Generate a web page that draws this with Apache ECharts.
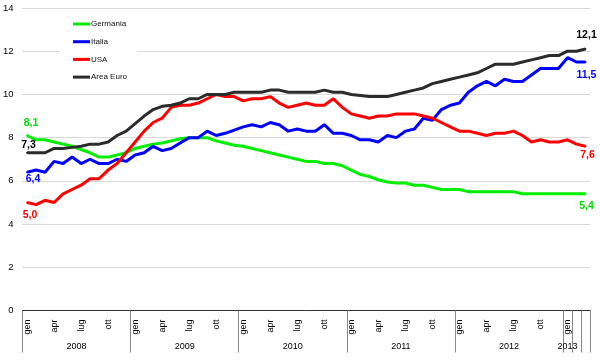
<!DOCTYPE html>
<html>
<head>
<meta charset="utf-8">
<script src="https://cdn.jsdelivr.net/npm/echarts@6/dist/echarts.min.js"></script>
<style>html,body{margin:0;padding:0;background:#fff}#c{width:600px;height:361px}</style>
</head>
<body>
<div id="c"></div>
<script>
const monthNames = ['gen','feb','mar','apr','mag','giu','lug','ago','set','ott','nov','dic'];
const years = ['2008','2009','2010','2011','2012','2013'];
const monthsPerYear = [12,12,12,12,12,3];
const yTicks = [0,2,4,6,8,10,12,14];

const germania = [8.1,7.9,7.9,7.8,7.7,7.6,7.45,7.3,7.1,7.1,7.2,7.3,
  7.5,7.6,7.7,7.75,7.85,7.95,8.0,8.0,8.0,7.85,7.75,7.65,
  7.6,7.5,7.4,7.3,7.2,7.1,7.0,6.9,6.9,6.8,6.8,6.7,
  6.5,6.3,6.2,6.05,5.95,5.9,5.9,5.8,5.8,5.7,5.6,5.6,
  5.6,5.5,5.5,5.5,5.5,5.5,5.5,5.4,5.4,5.4,5.4,5.4,
  5.4,5.4,5.4];
const italia = [6.4,6.5,6.4,6.9,6.8,7.1,6.8,7.0,6.8,6.8,7.0,6.9,
  7.2,7.3,7.6,7.4,7.5,7.75,8.0,8.0,8.3,8.1,8.2,8.35,
  8.5,8.6,8.5,8.7,8.6,8.3,8.4,8.3,8.3,8.6,8.2,8.2,
  8.1,7.9,7.9,7.8,8.1,8.0,8.3,8.4,8.9,8.8,9.3,9.5,
  9.6,10.1,10.4,10.6,10.4,10.7,10.6,10.6,10.9,11.2,11.2,11.2,
  11.7,11.5,11.5];
const usa = [5.0,4.9,5.1,5.0,5.4,5.6,5.8,6.1,6.1,6.5,6.8,7.3,
  7.8,8.3,8.7,8.9,9.4,9.5,9.5,9.6,9.8,10.0,9.9,9.9,
  9.7,9.8,9.8,9.9,9.6,9.4,9.5,9.6,9.5,9.5,9.8,9.4,
  9.1,9.0,8.9,9.0,9.0,9.1,9.1,9.1,9.0,8.9,8.7,8.5,
  8.3,8.3,8.2,8.1,8.2,8.2,8.3,8.1,7.8,7.9,7.8,7.8,
  7.9,7.7,7.6];
const areaEuro = [7.3,7.3,7.3,7.5,7.5,7.55,7.6,7.7,7.7,7.8,8.1,8.3,
  8.65,9.0,9.3,9.45,9.5,9.6,9.8,9.8,10.0,10.0,10.0,10.1,
  10.1,10.1,10.1,10.2,10.2,10.1,10.1,10.1,10.1,10.2,10.1,10.1,
  10.0,9.95,9.9,9.9,9.9,10.0,10.1,10.2,10.3,10.5,10.6,10.7,
  10.8,10.9,11.0,11.2,11.4,11.4,11.4,11.5,11.6,11.7,11.8,11.8,
  12.0,12.0,12.1];

// build categories "mese anno"
const categories = [];
const yearCenters = {};
let idx = 0;
years.forEach((y, k) => {
  const n = monthsPerYear[k];
  yearCenters[k === years.length - 1 ? idx + 0.5 : idx + n / 2] = y;
  for (let m = 0; m < n; m++) { categories.push(monthNames[m] + ' ' + y); idx++; }
});
const N = categories.length;
const yearStarts = [];
{ let s = 0; monthsPerYear.forEach(n => { yearStarts.push(s); s += n; }); }

const fmt = v => String(v.toFixed(1)).replace('.', ',');

function makeData(vals, firstLbl, lastLbl, color) {
  return vals.map((v, i) => {
    if (i === 0 || i === vals.length - 1) {
      const l = i === 0 ? firstLbl : lastLbl;
      return {
        value: v, symbol: 'circle', symbolSize: 2,
        label: { show: true, position: l.pos, offset: l.off, formatter: p => fmt(p.value),
                 color: color, fontWeight: 'bold', fontSize: 10.5, fontFamily: 'Liberation Sans, Arial, sans-serif' }
      };
    }
    return v;
  });
}

const seriesDefs = [
  { name: 'Germania', vals: germania, color: '#00ee00', lblColor: '#00e000',
    first: { pos: 'top', off: [4, -1] }, last: { pos: 'bottom', off: [1, 1] } },
  { name: 'Italia', vals: italia, color: '#0000ff', lblColor: '#0000ff',
    first: { pos: 'bottom', off: [6, -5] }, last: { pos: 'bottom', off: [1, 2] } },
  { name: 'USA', vals: usa, color: '#ff0000', lblColor: '#ff0000',
    first: { pos: 'bottom', off: [3, 1] }, last: { pos: 'bottom', off: [2, -3] } },
  { name: 'Area Euro', vals: areaEuro, color: '#2b2b2b', lblColor: '#000000',
    first: { pos: 'top', off: [1.5, 4] }, last: { pos: 'top', off: [1, -2] } }
];

const chart = echarts.init(document.getElementById('c'), null, { renderer: 'canvas' });
chart.setOption({
  animation: false,
  backgroundColor: '#fff',
  textStyle: { fontFamily: 'Liberation Sans, Arial, sans-serif' },
  grid: { left: 21, right: 10, top: 8, bottom: 50.5, containLabel: false },
  legend: {
    orient: 'vertical', left: 60, top: 14,
    padding: [5, 10, 5, 13],
    backgroundColor: '#ffffff',
    icon: 'rect',
    itemWidth: 17, itemHeight: 3, itemGap: 7.7,
    textStyle: { fontSize: 8, color: '#111', lineHeight: 10, fontFamily: 'Liberation Sans, Arial, sans-serif',
                 padding: [0, 0, 0, -4] },
    data: seriesDefs.map(s => ({ name: s.name, icon: 'rect' }))
  },
  xAxis: [
    {
      type: 'category', boundaryGap: true, data: categories,
      axisLine: { show: true, lineStyle: { color: '#333', width: 1 } },
      axisTick: { show: true, length: 42, interval: (i) => yearStarts.includes(i) || i >= 60,
                  lineStyle: { color: '#8a8a8a', width: 1 } },
      axisLabel: { interval: (i) => i % 3 === 0 && i <= 60, rotate: 90, margin: 9,
                   fontSize: 9, color: '#000', formatter: v => v.split(' ')[0] },
      splitLine: { show: false }
    },
    {
      type: 'value', position: 'bottom', min: 0, max: N, interval: 0.5,
      axisLine: { show: false }, axisTick: { show: false }, splitLine: { show: false },
      axisLabel: { margin: 32, fontSize: 9, color: '#000', showMinLabel: true, showMaxLabel: true,
                   formatter: v => yearCenters[v] || '' }
    }
  ],
  yAxis: {
    type: 'value', min: yTicks[0], max: yTicks[yTicks.length - 1], interval: 2,
    axisLine: { show: false }, axisTick: { show: false },
    axisLabel: { fontSize: 9.5, color: '#000', margin: 9 },
    splitLine: { lineStyle: { color: '#b4b4b4', type: [1, 1], width: 1 } }
  },
  series: seriesDefs.map(s => ({
    name: s.name, type: 'line', xAxisIndex: 0, symbol: 'none', showSymbol: true,
    color: s.color,
    lineStyle: { width: 3, color: s.color },
    itemStyle: { color: s.color },
    data: makeData(s.vals, s.first, s.last, s.lblColor),
    z: 2
  }))
});
</script>
</body>
</html>
